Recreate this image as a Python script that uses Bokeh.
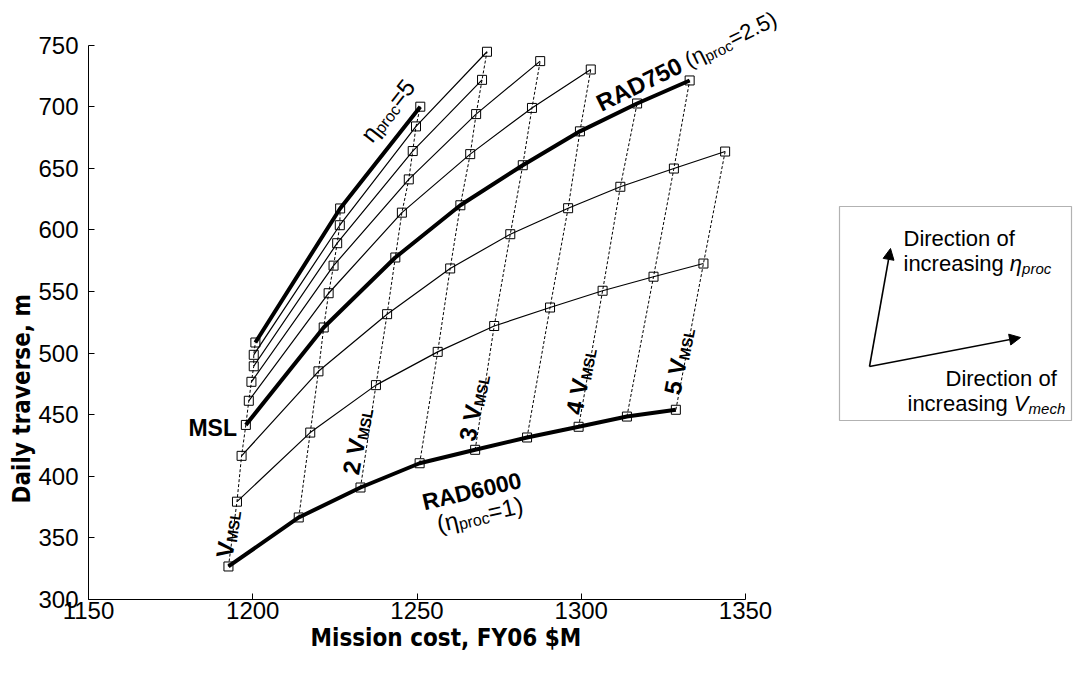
import math
from bokeh.plotting import figure
from bokeh.models import (Label, Range1d, Arrow, NormalHead, FixedTicker, BoxAnnotation,
                          Title)
from bokeh.embed import file_html
from bokeh.resources import INLINE

# ---------------- data ----------------
x_ticks = [1150, 1200, 1250, 1300, 1350]
y_ticks = [300, 350, 400, 450, 500, 550, 600, 650, 700, 750]

eta_levels = [1, 1.5, 2, 2.5, 3, 3.5, 4, 4.5, 5]
v_levels = [1, 1.5, 2, 2.5, 3, 3.5, 4, 4.5, 5]   # multiples of V_MSL

cost_eta1 = [1192.6, 1214.0, 1232.8, 1250.8, 1267.7, 1283.5, 1299.2, 1313.9, 1328.8]
trav_eta1 = [326.8, 366.6, 390.9, 410.6, 421.5, 431.5, 440.2, 448.5, 454.0]
cost_eta15 = [1195.2, 1217.5, 1237.5, 1256.3, 1273.5, 1290.5, 1306.5, 1322.0, 1337.2]
trav_eta15 = [379.4, 435.5, 474.0, 501.0, 522.0, 537.0, 550.6, 562.0, 572.7]
cost_eta2 = [1196.6, 1220.0, 1240.9, 1260.1, 1278.4, 1296.0, 1311.9, 1328.2, 1343.8]
trav_eta2 = [416.6, 485.2, 531.6, 568.7, 596.5, 617.6, 635.0, 649.8, 663.6]
cost_eta25 = [1197.9, 1221.6, 1243.4, 1263.2, 1282.2, 1299.6, 1317.0, 1333.0]
trav_eta25 = [441.7, 520.8, 577.6, 620.0, 652.5, 680.0, 702.6, 721.3]
cost_eta3 = [1198.8, 1223.1, 1245.4, 1266.2, 1285.0, 1302.9]
trav_eta3 = [461.3, 548.6, 614.0, 661.5, 699.0, 730.2]
cost_eta35 = [1199.6, 1224.6, 1247.5, 1268.0, 1287.5]
trav_eta35 = [476.7, 571.0, 641.0, 694.0, 737.0]
cost_eta4 = [1200.3, 1225.7, 1248.7, 1269.8]
trav_eta4 = [489.3, 589.2, 664.0, 721.8]
cost_eta45 = [1200.3, 1226.5, 1249.7, 1271.3]
trav_eta45 = [498.6, 603.8, 684.0, 744.6]
cost_eta5 = [1200.8, 1226.6, 1251.0]
trav_eta5 = [508.6, 617.4, 700.0]

series = [
    (1, cost_eta1, trav_eta1), (1.5, cost_eta15, trav_eta15), (2, cost_eta2, trav_eta2),
    (2.5, cost_eta25, trav_eta25), (3, cost_eta3, trav_eta3), (3.5, cost_eta35, trav_eta35),
    (4, cost_eta4, trav_eta4), (4.5, cost_eta45, trav_eta45), (5, cost_eta5, trav_eta5),
]
thick_etas = [1, 2.5, 5]

# ---------------- layout geometry (page pixels) ----------------
W, H = 1073, 657
FL, FR, FT, FB = 96, 753, 52.6, 607          # where 1150/1350/750/300 sit on the page
SX = (FR - FL) / (x_ticks[-1] - x_ticks[0])
SY = (FB - FT) / (y_ticks[-1] - y_ticks[0])
X_END = x_ticks[0] + (8 + W - FL) / SX
Y_END = y_ticks[0] + (FB - 8) / SY


def px2x(px):
    return x_ticks[0] + (px - FL) / SX


def px2y(py):
    return y_ticks[0] + (FB - py) / SY


# ---------------- text helpers ----------------
FONT = "Liberation Sans"
AXFONT = "DejaVu Sans Condensed, Liberation Sans, sans-serif"
REG = {' ': 278, '(': 333, ')': 333, '=': 584, '.': 278, ',': 278, 'a': 556, 'c': 500,
       'D': 722, 'd': 556, 'e': 556, 'f': 278, 'g': 556, 'h': 556, 'i': 222, 'm': 833,
       'n': 556, 'o': 556, 'p': 556, 'r': 333, 's': 500, 't': 278, 'V': 667, 'M': 833,
       'S': 667, 'L': 556, 'η': 556, 'R': 722, 'A': 667}
BOLD = {' ': 278, '(': 333, ')': 333, '=': 584, '.': 278, 'R': 722, 'A': 722, 'D': 722,
        'V': 667, 'M': 833, 'S': 667, 'L': 611}


def tw(text, size, bold=False):
    tbl = BOLD if bold else REG
    return sum(tbl.get(ch, 556) for ch in text) / 1000.0 * size


def rich(fig, x, y, segs, angle=0.0, align="left", font=FONT):
    """segs: (text, size_px, bold, italic, baseline_shift_px)"""
    a = math.radians(angle)
    ux, uy = math.cos(a), math.sin(a)
    nx, ny = -math.sin(a), math.cos(a)
    Wt = sum(tw(t, s, b) for t, s, b, i, d in segs)
    pos = {"left": 0.0, "center": -Wt / 2.0, "right": -Wt}[align]
    for t, s, b, it, d in segs:
        style = ("bold " if b else "") + ("italic" if it else "")
        style = style.strip() or "normal"
        body = t.lstrip(" ")
        lead = tw(t[:len(t) - len(body)], s, b)
        q = pos + lead
        fig.add_layout(Label(x=x, y=y, x_offset=q * ux + d * nx, y_offset=q * uy + d * ny,
                             text=body.rstrip(" "), angle=angle, angle_units="deg",
                             text_font=font, text_font_size=f"{s}px", text_font_style=style,
                             text_align="left", text_baseline="alphabetic", text_color="black"))
        pos += tw(t, s, b)


# ---------------- main plot ----------------
p = figure(width=W, height=H, x_range=Range1d(x_ticks[0], X_END),
           y_range=Range1d(y_ticks[0], Y_END), title=None,
           output_backend="svg", toolbar_location=None,
           min_border_left=FL - 8, min_border_right=0, min_border_top=0,
           min_border_bottom=8 + H - FB)
p.outline_line_color = None
p.xgrid.visible = False
p.ygrid.visible = False
p.background_fill_color = "white"
p.border_fill_color = "white"

for ax in (p.xaxis[0], p.yaxis[0]):
    ax.major_tick_in = 6
    ax.major_tick_out = 0
    ax.minor_tick_line_color = None
    ax.axis_line_color = "black"
    ax.major_tick_line_color = "black"
    ax.major_label_text_font = FONT
    ax.major_label_text_font_size = "24px"
    ax.major_label_text_color = "black"
p.xaxis.ticker = FixedTicker(ticks=x_ticks)
p.yaxis.ticker = FixedTicker(ticks=y_ticks)
p.xaxis.bounds = (x_ticks[0], x_ticks[-1])
p.yaxis.bounds = (y_ticks[0], y_ticks[-1])
p.xaxis.major_label_standoff = 2
p.yaxis.major_label_standoff = 10

# axis titles, centred where the reference has them
p.add_layout(Title(text="Mission cost, FY06 $M", align="left", offset=222, standoff=0,
                   text_font=AXFONT, text_font_style="bold", text_font_size="24px",
                   text_color="black"), "below")
p.add_layout(Title(text="Daily traverse, m", align="left", offset=96, standoff=0,
                   text_font=AXFONT, text_font_style="bold", text_font_size="24px",
                   text_color="black"), "left")

# constant-V dashed connectors
for j in range(len(v_levels)):
    xs = [c[j] for e, c, t in series if len(c) > j]
    ys = [t[j] for e, c, t in series if len(t) > j]
    if len(xs) > 1:
        p.line(xs, ys, line_color="black", line_width=1, line_dash="3 2")

# constant-eta curves
for e, c, t in series:
    p.line(c, t, line_color="black", line_width=4 if e in thick_etas else 1.2)
    p.scatter(c, t, marker="square", size=9, fill_color=None, line_color="black", line_width=1)

# annotations
rich(p, 1241.1, 696.9, [("η", 24, False, False, 0), ("proc", 16, False, False, -5),
                        ("=5", 24, False, False, 0)], angle=52, align="center")
rich(p, 1305.0, 702.0, [("RAD750", 24, True, False, 0), (" (η", 22, False, False, 0),
                        ("proc", 15, False, False, -5), ("=2.5)", 22, False, False, 0)], angle=26)
p.add_layout(Label(x=1195.2, y=439.6, text="MSL", text_font=FONT, text_font_size="23px",
                   text_font_style="bold", text_align="right", text_baseline="alphabetic",
                   text_color="black"))
rich(p, 1191.3, 334.1, [("V", 24, True, False, 0), ("MSL", 15, True, False, -5)], angle=82)
for lab, xx, yy in [("2 V", 1229.7, 401.7), ("3 V", 1265.2, 429.0),
                    ("4 V", 1297.7, 450.4), ("5 V", 1327.6, 466.6)]:
    rich(p, xx, yy, [(lab, 24, True, False, 0), ("MSL", 15, True, False, -5)], angle=79)
rich(p, 1251.7, 378.7, [("RAD6000", 23, True, False, 0)], angle=13)
rich(p, 1256.1, 361.1, [("(η", 24, False, False, 0), ("proc", 16, False, False, -5),
                        ("=1)", 24, False, False, 0)], angle=13)

# ---------------- direction box (placed in page pixels) ----------------
p.add_layout(BoxAnnotation(left=px2x(847), right=px2x(1079), top=px2y(214), bottom=px2y(428),
                           fill_color=None, fill_alpha=0, line_color="black", line_width=1.2))
rich(p, px2x(911), px2y(246), [("Direction of", 22, False, False, 0)])
rich(p, px2x(911), px2y(271), [("increasing ", 22, False, False, 0), ("η", 22, False, True, 0),
                                ("proc", 15, False, True, -5)])
rich(p, px2x(953), px2y(386), [("Direction of", 22, False, False, 0)])
rich(p, px2x(915), px2y(411), [("increasing ", 22, False, False, 0), ("V", 22, False, True, 0),
                                ("mech", 15, False, True, -5)])
p.add_layout(Arrow(end=NormalHead(size=11, fill_color="black", line_color="black"),
                   x_start=px2x(877), y_start=px2y(374), x_end=px2x(898), y_end=px2y(256),
                   line_width=1.6))
p.add_layout(Arrow(end=NormalHead(size=11, fill_color="black", line_color="black"),
                   x_start=px2x(877), y_start=px2y(374), x_end=px2x(1028), y_end=px2y(345),
                   line_width=1.6))

open("out.html", "w").write(file_html(p, INLINE))
